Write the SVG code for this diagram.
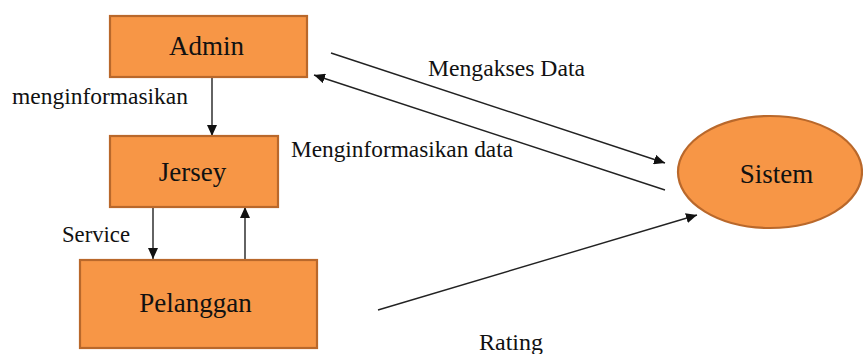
<svg xmlns="http://www.w3.org/2000/svg" width="863" height="354" viewBox="0 0 863 354">
<style>
.box{fill:#F79646;stroke:#B9682B;stroke-width:2.2}
.nt{font-family:'Liberation Serif','DejaVu Serif',serif;font-size:27px;fill:#111;text-anchor:middle}
.lb{font-family:'Liberation Serif','DejaVu Serif',serif;font-size:23.5px;fill:#111}
.ln{stroke:#222;stroke-width:1.4;fill:none;marker-end:url(#ah)}
</style>
<defs>
<marker id="ah" markerUnits="userSpaceOnUse" markerWidth="12" markerHeight="10" refX="11" refY="5" orient="auto">
<path d="M0,0 L11,5 L0,10 z" fill="#111"/>
</marker>
</defs>
<rect width="863" height="354" fill="#fff"/>
<g id="connectors">
<line class="ln" x1="212" y1="77" x2="212" y2="136"/>
<line class="ln" x1="153" y1="207" x2="153" y2="259"/>
<line class="ln" x1="245" y1="260" x2="245" y2="207"/>
<line class="ln" x1="331" y1="53" x2="665" y2="163"/>
<line class="ln" x1="665" y1="190" x2="314" y2="75"/>
<line class="ln" x1="378" y1="310" x2="697" y2="215"/>
</g>
<g id="admin">
<rect class="box" x="110" y="16" width="197" height="61"/>
<text class="nt" x="206.5" y="55" font-family="Liberation Serif, serif">Admin</text>
</g>
<g id="jersey">
<rect class="box" x="110" y="136" width="168" height="71"/>
<text class="nt" x="192.5" y="181" font-family="Liberation Serif, serif">Jersey</text>
</g>
<g id="pelanggan">
<rect class="box" x="80" y="260" width="237" height="88"/>
<text class="nt" x="195.5" y="312" font-family="Liberation Serif, serif">Pelanggan</text>
</g>
<g id="sistem">
<ellipse class="box" cx="770" cy="172" rx="92" ry="56"/>
<text class="nt" x="776.5" y="183" font-family="Liberation Serif, serif">Sistem</text>
</g>
<g id="labels">
<text class="lb" x="12" y="104" textLength="176" lengthAdjust="spacingAndGlyphs">menginformasikan</text>
<text class="lb" x="62" y="242" textLength="68" lengthAdjust="spacingAndGlyphs">Service</text>
<text class="lb" x="291" y="157" textLength="222" lengthAdjust="spacingAndGlyphs">Menginformasikan data</text>
<text class="lb" x="428" y="76" textLength="157" lengthAdjust="spacingAndGlyphs">Mengakses Data</text>
<text class="lb" x="479" y="350" textLength="64" lengthAdjust="spacingAndGlyphs">Rating</text>
</g>
</svg>
